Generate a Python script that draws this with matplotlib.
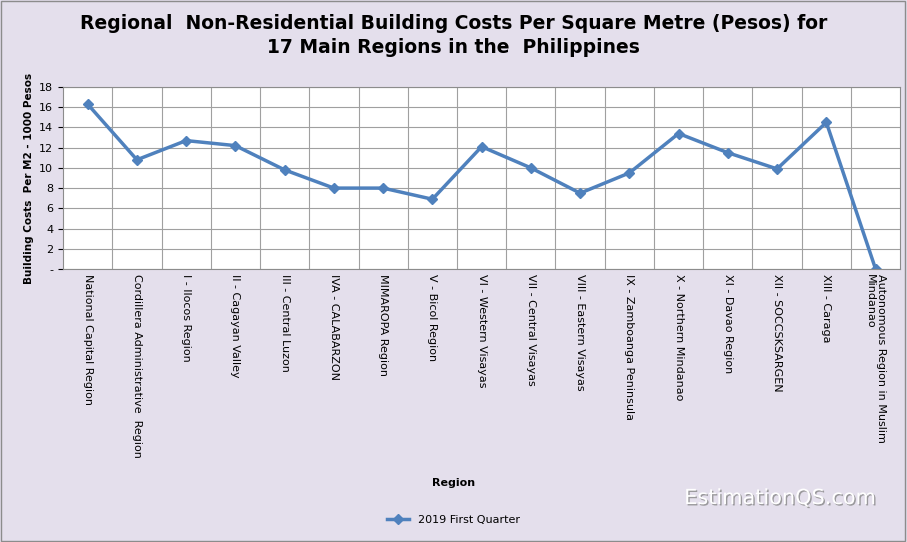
import matplotlib.pyplot as plt
import matplotlib.patheffects as pe

# -------- DATA --------
regions = ['National Capital Region', 'Cordillera Administrative  Region', 'I - Ilocos Region',
           'II - Cagayan Valley', 'III - Central Luzon', 'IVA - CALABARZON', 'MIMAROPA Region',
           'V - Bicol Region', 'VI - Western Visayas', 'VII - Central Visayas',
           'VIII - Eastern Visayas', 'IX - Zamboanga Peninsula', 'X - Northern Mindanao',
           'XI - Davao Region', 'XII - SOCCSKSARGEN', 'XIII - Caraga',
           'Autonomous Region in Muslim\nMindanao']
costs = [16.3, 10.8, 12.7, 12.2, 9.8, 8.0, 8.0, 6.9, 12.1, 10.0, 7.5, 9.5, 13.4, 11.5, 9.9, 14.5, 0.0]
yticks = [0, 2, 4, 6, 8, 10, 12, 14, 16, 18]
ytick_labels = ['-'] + [str(v) for v in yticks[1:]]

# -------- FIGURE --------
fig = plt.figure(figsize=(9.07, 5.42), dpi=100, facecolor='#E4DFEC')
fig.patches.append(plt.Rectangle((0.001, 0.001), 0.997, 0.997, transform=fig.transFigure,
                                 fill=False, edgecolor='#8c8c8c', linewidth=1))
ax = fig.add_axes([0.0695, 0.5037, 0.923, 0.3358])
ax.set_facecolor('white')

x = list(range(len(regions)))
ax.plot(x, costs, color='#4F81BD', linewidth=2.5, marker='D', markersize=5, label='2019 First Quarter')

ax.set_xlim(-0.5, len(regions) - 0.5)
ax.set_ylim(0, 18)
ax.set_yticks(yticks)
ax.set_yticklabels(ytick_labels, fontsize=8)
ax.set_xticks(x)
ax.set_xticklabels(regions, rotation=270, fontsize=8, va='top', ha='center', multialignment='left')
ax.set_xticks([i + 0.5 for i in x[:-1]], minor=True)
ax.grid(axis='y', color='#a0a0a0', linewidth=0.8)
ax.grid(axis='x', which='minor', color='#a0a0a0', linewidth=0.8)
ax.tick_params(axis='x', which='both', length=0)
for s in ax.spines.values():
    s.set_color('#8c8c8c')

ax.set_ylabel('Building Costs  Per M2 - 1000 Pesos', fontsize=7.5, fontweight='bold')
fig.text(0.5, 0.104, 'Region', ha='center', fontsize=8, fontweight='bold')
fig.suptitle('Regional  Non-Residential Building Costs Per Square Metre (Pesos) for\n17 Main Regions in the  Philippines',
             y=0.975, fontsize=13.5, fontweight='bold', linespacing=1.35)

fig.legend(loc='center', bbox_to_anchor=(0.5, 0.04), frameon=False, fontsize=8)
fig.text(0.86, 0.07, 'EstimationQS.com', ha='center', fontsize=15, color='white',
         path_effects=[pe.withSimplePatchShadow(offset=(1, -1), shadow_rgbFace='#888888', alpha=0.8)])

plt.savefig('out.png', dpi=100, facecolor=fig.get_facecolor())
plt.close()
